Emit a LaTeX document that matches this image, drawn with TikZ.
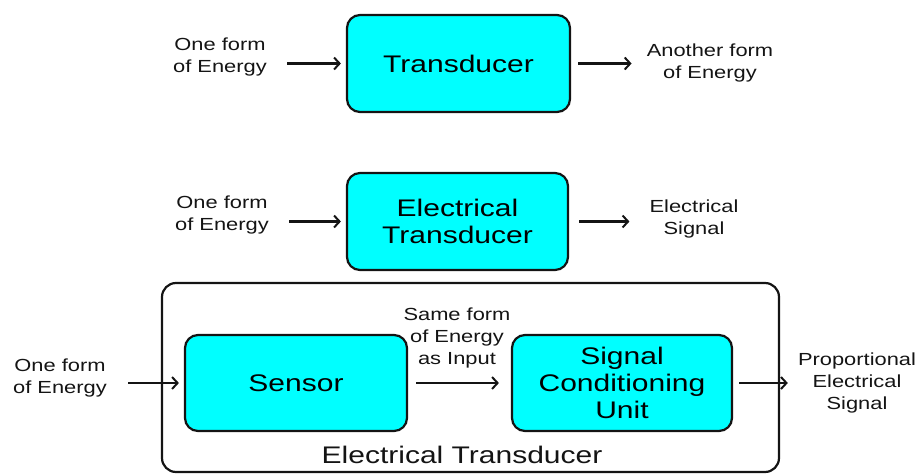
\documentclass[tikz,border=0pt]{standalone}
\usepackage{fontspec}
\setmainfont[FakeStretch=1.25]{Liberation Sans}
\usetikzlibrary{arrows.meta}
\definecolor{boxcyan}{HTML}{00FFFF}
\definecolor{ink}{HTML}{141414}
\tikzset{
  block/.style={draw=ink, line width=2.2pt, fill=boxcyan, rounded corners=13pt,
    align=center, inner sep=0pt, font=\fontsize{24}{27}\selectfont},
  frame/.style={draw=ink, line width=2.2pt, rounded corners=14pt, inner sep=0pt},
  lab/.style={align=center, inner sep=0pt, text=ink, font=\fontsize{17.5}{22}\selectfont},
  biglab/.style={inner sep=0pt, text=ink, font=\fontsize{24}{27}\selectfont},
  arr/.style={draw=ink, line width=2.2pt, -{Straight Barb[length=5.5pt,width=12pt,line width=2pt]}}
}
\begin{document}
\begin{tikzpicture}[x=1pt,y=-1pt]
\useasboundingbox (0,0) rectangle (922,474);
% row 1
\node[block, minimum width=223pt, minimum height=97pt] (b1) at (458.5,63.5) {Transducer};
\node[lab] (l1) at (220,57) {One form\\of Energy};
\node[lab] (r1) at (710,63) {Another form\\of Energy};
\draw[arr, shorten <=20pt, shorten >=5pt] (l1.east |- b1.west) -- (b1.west);
\draw[arr, shorten <=7pt, shorten >=15pt] (b1.east) -- (r1.west |- b1.east);
% row 2
\node[block, minimum width=221pt, minimum height=97pt] (b2) at (457.5,221.5) {Electrical\\Transducer};
\node[lab] (l2) at (222,215) {One form\\of Energy};
\node[lab] (r2) at (694,219) {Electrical\\Signal};
\draw[arr, shorten <=20pt, shorten >=5pt] (l2.east |- b2.west) -- (b2.west);
\draw[arr, shorten <=10pt, shorten >=20pt] (b2.east) -- (r2.west |- b2.east);
% row 3
\node[frame, minimum width=617pt, minimum height=189pt] (outer) at (470.5,377.5) {};
\node[biglab] (ot) at (462,455) {Electrical Transducer};
\node[block, minimum width=222pt, minimum height=96pt] (sen) at (296,383) {Sensor};
\node[block, minimum width=220pt, minimum height=96pt] (scu) at (622,383) {Signal\\Conditioning\\Unit};
\node[lab] (l3) at (60,378) {One form\\of Energy};
\node[lab] (m3) at (457,338) {Same form\\of Energy\\as Input};
\node[lab] (r3) at (857,383) {Proportional\\Electrical\\Signal};
\draw[arr, shorten <=21pt, shorten >=5pt] (l3.east |- sen.west) -- (sen.west);
\draw[arr, shorten <=8pt, shorten >=12pt] (sen.east) -- (scu.west);
\draw[arr, shorten <=6pt, shorten >=10pt] (scu.east) -- (r3.west |- scu.east);
\end{tikzpicture}
\end{document}
